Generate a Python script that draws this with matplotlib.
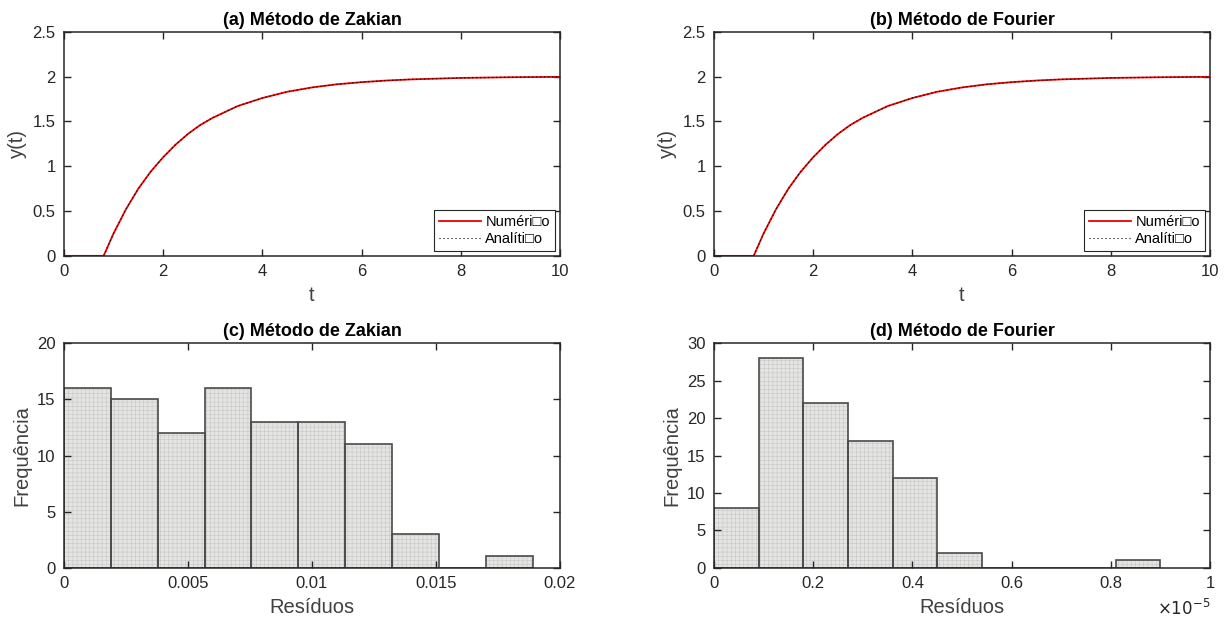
import matplotlib
matplotlib.use("Agg")
import matplotlib.pyplot as plt
from matplotlib.ticker import FuncFormatter, MultipleLocator

plt.rcParams['font.family'] = ['Liberation Sans', 'DejaVu Sans']
plt.rcParams['hatch.linewidth'] = 0.35

t = [0.0, 0.4, 0.8, 1.0, 1.25, 1.5, 1.75, 2.0, 2.25, 2.5, 2.75, 3.0, 3.5, 4.0,
     4.5, 5.0, 5.5, 6.0, 6.5, 7.0, 8.0, 9.0, 10.0]
y_num = [0.0, 0.0, 0.0, 0.25, 0.52, 0.75, 0.94, 1.10, 1.24, 1.36, 1.46, 1.54,
         1.67, 1.76, 1.83, 1.878, 1.913, 1.937, 1.955, 1.968, 1.984, 1.992, 1.996]
y_ana = [0.0, 0.0, 0.0, 0.25, 0.52, 0.75, 0.94, 1.10, 1.24, 1.36, 1.46, 1.54,
         1.67, 1.76, 1.83, 1.878, 1.913, 1.937, 1.955, 1.968, 1.984, 1.992, 1.996]

# residual histograms (left bin edge, bin width, counts)
zak_edges = [0.0, 0.00189, 0.00378, 0.00567, 0.00756, 0.00945, 0.01134,
             0.01323, 0.01512, 0.01701]
zak_width = 0.00189
zak_counts = [16, 15, 12, 16, 13, 13, 11, 3, 0, 1]

fou_edges = [0.0, 0.09e-5, 0.18e-5, 0.27e-5, 0.36e-5, 0.45e-5, 0.54e-5,
             0.63e-5, 0.72e-5, 0.81e-5]
fou_width = 0.09e-5
fou_counts = [8, 28, 22, 17, 12, 2, 0, 0, 0, 1]

titles = ['(a) Método de Zakian', '(b) Método de Fourier',
          '(c) Método de Zakian', '(d) Método de Fourier']

axcol = '#262626'
labcol = '#404040'

fig = plt.figure(figsize=(12.3, 6.21), dpi=100)
L1, L2, W, H = 0.052, 0.5805, 0.4033, 0.361
ax_a = fig.add_axes([L1, 0.588, W, H])
ax_b = fig.add_axes([L2, 0.588, W, H])
ax_c = fig.add_axes([L1, 0.086, W, H])
ax_d = fig.add_axes([L2, 0.086, W, H])


def style(ax):
    for s in ax.spines.values():
        s.set_color(axcol)
        s.set_linewidth(1.1)
    ax.tick_params(direction='in', length=5, width=1.0, colors=axcol,
                   labelsize=12, top=True, right=True, pad=6)


for ax, title in zip([ax_a, ax_b], titles[:2]):
    ax.plot(t, y_num, color='#ee0000', lw=1.3, label='Numéri\u25a1o')
    ax.plot(t, y_ana, color='black', lw=0.8, ls=(0, (1, 2.6)), label='Analíti\u25a1o')
    ax.set_xlim(0, 10)
    ax.set_ylim(0, 2.5)
    ax.xaxis.set_major_locator(MultipleLocator(2))
    ax.yaxis.set_major_locator(MultipleLocator(0.5))
    ax.xaxis.set_major_formatter(FuncFormatter(lambda v, p: f'{v:g}'))
    ax.yaxis.set_major_formatter(FuncFormatter(lambda v, p: f'{v:g}'))
    ax.set_xlabel('t', fontsize=14.5, color=labcol, labelpad=5)
    ax.set_ylabel('y(t)', fontsize=14.5, color=labcol, labelpad=4)
    ax.set_title(title, fontsize=13, fontweight='bold', pad=5)
    style(ax)
    leg = ax.legend(loc='lower right', fontsize=10.5,
                    handlelength=2.9, handletextpad=0.3, borderpad=0.35,
                    labelspacing=0.2, fancybox=False, framealpha=1,
                    borderaxespad=0.35)
    leg.get_frame().set_edgecolor(axcol)
    leg.get_frame().set_linewidth(0.8)


def hist(ax, edges, width, counts):
    # hatched fill first, outline on top so the grid colour stays light
    ax.bar(edges, counts, width=width, align='edge', color='#e4e4e2',
           edgecolor='#c4c4c2', hatch='++++', linewidth=0)
    ax.bar(edges, counts, width=width, align='edge', fill=False,
           edgecolor='#4a4a4a', linewidth=1.2)


hist(ax_c, zak_edges, zak_width, zak_counts)
ax_c.set_xlim(0, 0.02)
ax_c.set_ylim(0, 20)
ax_c.xaxis.set_major_locator(MultipleLocator(0.005))
ax_c.yaxis.set_major_locator(MultipleLocator(5))
ax_c.xaxis.set_major_formatter(FuncFormatter(lambda v, p: f'{v:g}'))

hist(ax_d, fou_edges, fou_width, fou_counts)
ax_d.set_xlim(0, 1e-5)
ax_d.set_ylim(0, 30)
ax_d.xaxis.set_major_locator(MultipleLocator(0.2e-5))
ax_d.yaxis.set_major_locator(MultipleLocator(5))
ax_d.xaxis.set_major_formatter(FuncFormatter(lambda v, p: f'{v * 1e5:g}'))
ax_d.text(1.0, -0.135, r'$\times10^{-5}$', transform=ax_d.transAxes,
          ha='right', va='top', fontsize=12, color=axcol)

for ax, title in zip([ax_c, ax_d], titles[2:]):
    ax.set_xlabel('Resíduos', fontsize=14.5, color=labcol, labelpad=5)
    ax.set_ylabel('Frequência', fontsize=14.5, color=labcol, labelpad=4)
    ax.set_title(title, fontsize=13, fontweight='bold', pad=5)
    style(ax)

fig.savefig('out.png', dpi=100)
